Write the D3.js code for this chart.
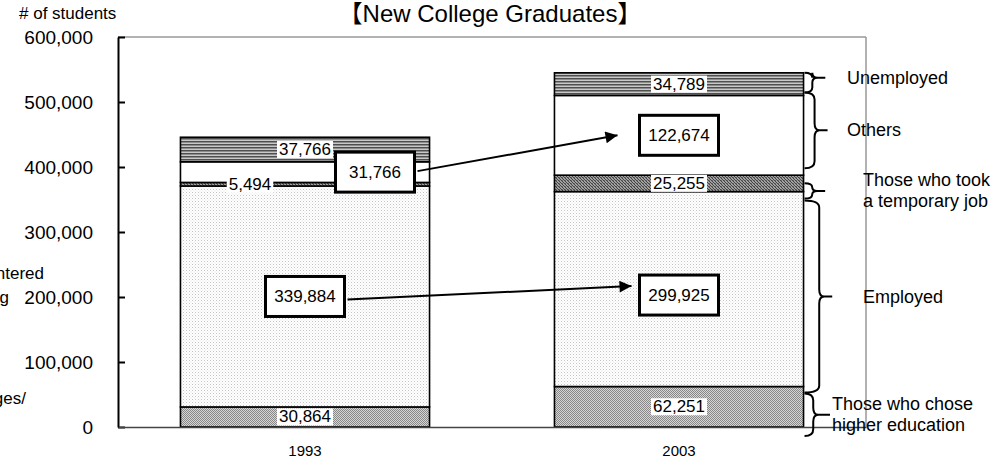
<!DOCTYPE html>
<html>
<head>
<meta charset="utf-8">
<script src="https://cdn.jsdelivr.net/npm/d3@7"></script>
<style>
  body { margin: 0; background: #fff; }
  text { font-family: "Liberation Sans", Arial, "Noto Sans CJK JP", sans-serif; }
</style>
</head>
<body>
<div id="chart"></div>
<script>
// data
var years = ["1993", "2003"];
var keys = ["higher", "employed", "temporary", "others", "unemployed"];
var higherEd   = [30864, 62251];
var employed   = [339884, 299925];
var temporary  = [5494, 25255];
var others     = [31766, 122674];
var unemployed = [37766, 34789];
var yTicks = [0, 100000, 200000, 300000, 400000, 500000, 600000];
var sideLabels = {
  unemployed: ["Unemployed"],
  others: ["Others"],
  temporary: ["Those who took", "a temporary job"],
  employed: ["Employed"],
  higher: ["Those who chose", "higher education"]
};

var W = 996, H = 467;
var margin = {top: 37, right: 130, bottom: 40, left: 118};

var rows = years.map(function(y, i) {
  return {year: y, higher: higherEd[i], employed: employed[i], temporary: temporary[i],
          others: others[i], unemployed: unemployed[i]};
});
var series = d3.stack().keys(keys)(rows);

var x = d3.scaleBand()
    .domain(years)
    .range([margin.left, W - margin.right])
    .paddingInner(0.334)
    .paddingOuter(0.167);
var y = d3.scaleLinear()
    .domain([0, 600000])
    .range([H - margin.bottom, margin.top]);

var svg = d3.select("#chart").append("svg")
    .attr("width", W)
    .attr("height", H);

// fill patterns
var defs = svg.append("defs");
var pHigher = defs.append("pattern").attr("id", "p-higher")
    .attr("width", 2).attr("height", 2).attr("patternUnits", "userSpaceOnUse");
pHigher.append("rect").attr("width", 2).attr("height", 2).attr("fill", "#d6d6d6");
pHigher.append("rect").attr("width", 1).attr("height", 1).attr("fill", "#888");
pHigher.append("rect").attr("x", 1).attr("y", 1).attr("width", 1).attr("height", 1).attr("fill", "#888");

var pEmp = defs.append("pattern").attr("id", "p-employed")
    .attr("width", 3).attr("height", 3).attr("patternUnits", "userSpaceOnUse");
pEmp.append("rect").attr("width", 3).attr("height", 3).attr("fill", "#fff");
pEmp.append("rect").attr("width", 1).attr("height", 1).attr("fill", "#c4c4c4");
pEmp.append("rect").attr("x", 1.5).attr("y", 1.5).attr("width", 1).attr("height", 1).attr("fill", "#e0e0e0");

var pTemp = defs.append("pattern").attr("id", "p-temporary")
    .attr("width", 3).attr("height", 3).attr("patternUnits", "userSpaceOnUse");
pTemp.append("rect").attr("width", 3).attr("height", 3).attr("fill", "#a0a0a0");
pTemp.append("rect").attr("x", 0).attr("y", 0).attr("width", 1).attr("height", 1).attr("fill", "#444");
pTemp.append("rect").attr("x", 1).attr("y", 1).attr("width", 1).attr("height", 1).attr("fill", "#444");
pTemp.append("rect").attr("x", 2).attr("y", 2).attr("width", 1).attr("height", 1).attr("fill", "#444");
pTemp.append("rect").attr("x", 1).attr("y", 0).attr("width", 1).attr("height", 1).attr("fill", "#6a6a6a");

var pUnemp = defs.append("pattern").attr("id", "p-unemployed")
    .attr("width", 3).attr("height", 3).attr("patternUnits", "userSpaceOnUse");
pUnemp.append("rect").attr("width", 3).attr("height", 3).attr("fill", "#c8c8c8");
pUnemp.append("rect").attr("width", 3).attr("height", 1).attr("fill", "#4e4e4e");
pUnemp.append("rect").attr("y", 1).attr("width", 3).attr("height", 1).attr("fill", "#8c8c8c");

var fills = {higher: "url(#p-higher)", employed: "url(#p-employed)", temporary: "url(#p-temporary)",
             others: "#fff", unemployed: "url(#p-unemployed)"};

// plot frame
svg.append("line")
    .attr("x1", margin.left).attr("x2", W - margin.right)
    .attr("y1", margin.top).attr("y2", margin.top)
    .attr("stroke", "#999").attr("stroke-width", 1.5);
svg.append("line")
    .attr("x1", W - margin.right).attr("x2", W - margin.right)
    .attr("y1", margin.top).attr("y2", H - margin.bottom)
    .attr("stroke", "#999").attr("stroke-width", 1.5);

// bars
svg.selectAll(".layer")
    .data(series)
  .enter().append("g")
    .attr("class", "layer")
    .attr("fill", function(d) { return fills[d.key]; })
  .selectAll("rect")
    .data(function(d) { return d; })
  .enter().append("rect")
    .attr("x", function(d) { return x(d.data.year); })
    .attr("width", x.bandwidth())
    .attr("y", function(d) { return y(d[1]); })
    .attr("height", function(d) { return y(d[0]) - y(d[1]); })
    .attr("stroke", "#000")
    .attr("stroke-width", 1.6);

// axes
svg.append("g")
    .attr("transform", "translate(" + margin.left + ",0)")
    .call(d3.axisLeft(y).tickValues(yTicks).tickFormat(d3.format(","))
      .tickSizeInner(-7).tickSizeOuter(0).tickPadding(25))
    .call(function(g) {
      g.select(".domain").attr("stroke-width", 2);
      g.selectAll(".tick line").attr("stroke-width", 2);
      g.selectAll("text").attr("font-size", 19).attr("font-family", "Liberation Sans, Arial, sans-serif");
    });

svg.append("g")
    .attr("transform", "translate(0," + (H - margin.bottom) + ")")
    .call(d3.axisBottom(x).tickSize(0).tickPadding(18))
    .call(function(g) {
      g.select(".domain").attr("stroke-width", 1.5).attr("stroke", "#444");
      g.selectAll("text").attr("font-size", 15).attr("font-family", "Liberation Sans, Arial, sans-serif");
    });

// value labels
var boxed = {employed: true, others: true};
var labelDx = {"1993-others": 70, "1993-temporary": -55};
var labelDy = {"2003-employed": 6};
var fmt = d3.format(",");
var boxes = {};

series.forEach(function(s) {
  s.forEach(function(d) {
    var id = d.data.year + "-" + s.key;
    var cx = x(d.data.year) + x.bandwidth() / 2 + (labelDx[id] || 0);
    var cy = y((d[0] + d[1]) / 2) + (labelDy[id] || 0);
    var g = svg.append("g");
    var bg = g.append("rect");
    var t = g.append("text")
        .attr("x", cx).attr("y", cy)
        .attr("text-anchor", "middle")
        .attr("dominant-baseline", "central")
        .attr("font-size", 17)
        .text(fmt(d[1] - d[0]));
    var bb = t.node().getBBox();
    if (boxed[s.key]) {
      var bw = 79, bh = 40;
      bg.attr("x", cx - bw / 2).attr("y", cy - bh / 2).attr("width", bw).attr("height", bh)
        .attr("fill", "#fff").attr("stroke", "#000").attr("stroke-width", 3);
      boxes[id] = {x0: cx - bw / 2, x1: cx + bw / 2, cy: cy};
    } else {
      bg.attr("x", bb.x - 2).attr("y", bb.y + 1).attr("width", bb.width + 4).attr("height", bb.height - 2)
        .attr("fill", "#fff");
    }
  });
});

// arrows between the two years
defs.append("marker")
    .attr("id", "arrow")
    .attr("viewBox", "0 0 10 10")
    .attr("refX", 10).attr("refY", 5)
    .attr("markerWidth", 10).attr("markerHeight", 6)
    .attr("markerUnits", "strokeWidth")
    .attr("orient", "auto")
  .append("path")
    .attr("d", "M0,0L10,5L0,10Z")
    .attr("fill", "#000");

var arrows = [
  {from: "1993-others", to: "2003-others", dy0: -1, dy1: 0, gap: 22},
  {from: "1993-employed", to: "2003-employed", dy0: 3, dy1: -9, gap: 8}
];
arrows.forEach(function(a) {
  var b0 = boxes[a.from], b1 = boxes[a.to];
  svg.append("line")
      .attr("x1", b0.x1 + 3).attr("y1", b0.cy + a.dy0)
      .attr("x2", b1.x0 - a.gap).attr("y2", b1.cy + a.dy1)
      .attr("stroke", "#000").attr("stroke-width", 2)
      .attr("marker-end", "url(#arrow)");
});

// braces on the right of the 2003 bar
var last = years[years.length - 1];
var braceAdj = {unemployed: [0, -3, -5], others: [-3, -7, 0], temporary: [8, 7, 0],
                employed: [9, 6, 0], higher: [7, 9, 0]};
var labelPos = {unemployed: 847, others: 847, temporary: 863, employed: 863, higher: 832};
var bx = x(last) + x.bandwidth() + 1;

function brace(x0, y1, y2, ym, w, tip) {
  var r = Math.min(7, (y2 - y1) / 4);
  var xb = x0 + w;
  return "M" + x0 + "," + y1 +
    "Q" + xb + "," + y1 + " " + xb + "," + (y1 + r) +
    "L" + xb + "," + (ym - r) +
    "Q" + xb + "," + ym + " " + (xb + 5) + "," + ym +
    "L" + tip + "," + ym +
    "M" + (xb + 5) + "," + ym +
    "Q" + xb + "," + ym + " " + xb + "," + (ym + r) +
    "L" + xb + "," + (y2 - r) +
    "Q" + xb + "," + y2 + " " + x0 + "," + y2;
}

series.forEach(function(s) {
  var d = s[years.indexOf(last)];
  var adj = braceAdj[s.key];
  var y1 = y(d[1]) + adj[0], y2 = y(d[0]) + adj[1];
  var ym = (y1 + y2) / 2 + adj[2];
  var w = Math.min(15, 7 + (y2 - y1) / 25);
  var tip = s.key === "higher" ? 830 : bx + w + 13;
  svg.append("path")
      .attr("d", brace(bx, y1, y2, ym, w, tip))
      .attr("fill", "none")
      .attr("stroke", "#000")
      .attr("stroke-width", 2);
  var lines = sideLabels[s.key];
  var t = svg.append("text")
      .attr("x", labelPos[s.key])
      .attr("y", ym - (lines.length - 1) * 10.5)
      .attr("font-size", 18)
      .attr("dominant-baseline", "central");
  lines.forEach(function(l, i) {
    t.append("tspan").attr("x", labelPos[s.key]).attr("dy", i ? 21 : 0).text(l);
  });
});

// titles
svg.append("text")
    .attr("x", 490).attr("y", 22)
    .attr("text-anchor", "middle")
    .attr("font-size", 24)
    .text("【New College Graduates】");
svg.append("text")
    .attr("x", 19).attr("y", 19)
    .attr("font-size", 17)
    .text("# of students");

// labels cut off at the left edge, as in the original
svg.append("text").attr("x", 44).attr("y", 279).attr("text-anchor", "end")
    .attr("font-size", 17).text("Those who entered");
svg.append("text").attr("x", 9).attr("y", 303).attr("text-anchor", "end")
    .attr("font-size", 17).text("training");
svg.append("text").attr("x", 26).attr("y", 404).attr("text-anchor", "end")
    .attr("font-size", 17).text("colleges/");
</script>
</body>
</html>
